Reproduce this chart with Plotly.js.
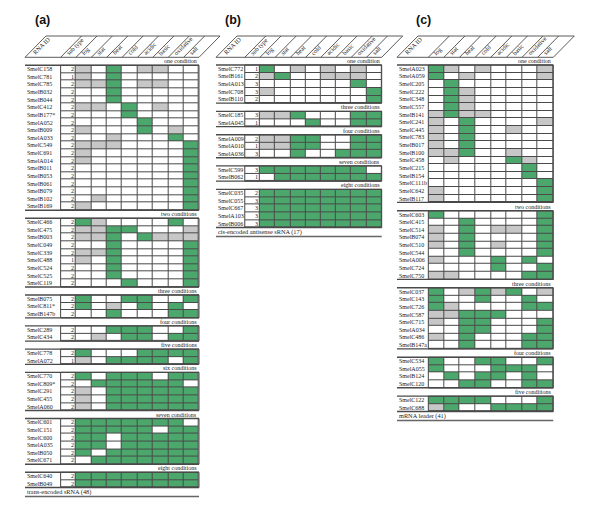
<!DOCTYPE html>
<html><head><meta charset="utf-8">
<script src="https://cdn.plot.ly/plotly-3.0.1.min.js"></script>
<style>html,body{margin:0;padding:0;background:#fff}#chart{width:600px;height:511px}</style>
</head><body><div id="chart"></div>
<script>
// ---------------- DATA ----------------
// state codes per condition: 0 = white, 1 = grey, 2 = green
const conditions = ["log","stat","heat","cold","acidic","basic","oxidative","salt"];
const groupTitles = ["one condition","two conditions","three conditions","four conditions",
                     "five conditions","six conditions","seven conditions","eight conditions"];

// Panel (a) trans-encoded sRNA
const aIds = ["SmelC158","SmelC781","SmelC785","SmelB032","SmelB044","SmelC412","SmelB177*","SmelA052","SmelB009","SmelA033",
  "SmelC549","SmelC691","SmelA014","SmelB011","SmelB053","SmelB061","SmelB079","SmelB102","SmelB169",
  "SmelC466","SmelC475","SmelB003","SmelC049","SmelC339","SmelC488","SmelC524","SmelC525","SmelC119",
  "SmelB075","SmelC811*","SmelB147b",
  "SmelC289","SmelC434",
  "SmelC778","SmelA072",
  "SmelC770","SmelC809*","SmelC291","SmelC455","SmelA060",
  "SmelC601","SmelC151","SmelC600","SmelA035","SmelB050","SmelC671",
  "SmelC640","SmelB049"];
const aSubType = [2,1,2,2,2,2,2,2,2,2, 2,2,2,2,2,2,2,2,2,
  2,2,2,2,2,1,2,2,2,
  2,2,2,
  2,2,
  2,1,
  2,2,2,2,2,
  2,2,2,2,2,2,
  2,2];
const aStates = ["10201100","10200000","11201100","00200000","00200000","11020100","00020000","00002000","10002010","00100020",
  "11100002","10000002","10000002","00000002","00000002","00000002","00000002","01000002","10000002",
  "21000020","11220001","11202111","00200002","11200002","10200002","00200002","00200002","00020002",
  "20022002","20102020","00200022",
  "00222002","01022022",
  "20002222","10222202",
  "20222022","02222220","10222222","10222222","10222222",
  "22222220","22222022","22022222","22022222","20222222","02222222",
  "22222222","22222222"];
const aGroupSizes = [19,9,3,2,2,5,6,2];
const aGroupTitleIdx = [0,1,2,3,4,5,6,7];
const aFooter = "trans-encoded sRNA (48)";

// Panel (b) cis-encoded antisense sRNA
const bIds = ["SmelC772","SmelB161","SmelA013","SmelC708","SmelB110",
  "SmelC185","SmelA045",
  "SmelA009","SmelA010","SmelA036",
  "SmelC599","SmelB062",
  "SmelC035","SmelC055","SmelC667","SmelA103","SmelB006"];
const bSubType = [1,2,3,3,2, 3,1, 2,1,3, 3,1, 2,3,3,3,3];
const bStates = ["20101010","12001110","00000020","10000002","00000002",
  "11200022","00020022",
  "11220022","11220022","00200222",
  "22222220","02222222",
  "22222222","22222222","22222222","22222222","22222222"];
const bGroupSizes = [5,2,3,2,5];
const bGroupTitleIdx = [0,2,3,6,7];
const bFooter = "cis-encoded antisense sRNA (17)";

// Panel (c) mRNA leader
const cIds = ["SmelA023","SmelA059","SmelC205","SmelC222","SmelC348","SmelC557","SmelB141","SmelC241","SmelC445","SmelC783",
  "SmelB017","SmelB100","SmelC458","SmelC215","SmelB154","SmelC111b","SmelC642","SmelB117",
  "SmelC603","SmelC415","SmelC514","SmelB074","SmelC510","SmelC544","SmelA006","SmelC724","SmelC750",
  "SmelC037","SmelC143","SmelC726","SmelC587","SmelC715","SmelA034","SmelC486","SmelB147a",
  "SmelC534","SmelA055","SmelB124","SmelC120",
  "SmelC122","SmelC688"];
const cStates = ["21010001","20100001","02000000","02100000","02100000","02100000","12110000","10200001","10200100","10200000",
  "10200000","11200100","01000210","00000020","00000020","00000002","10000002","10000002",
  "20000002","00200002","10201102","10200002","10201002","00200002","10002020","00002002","11000022",
  "20121201","20020020","21000022","11222000","10220002","00220002","10200022","00200022",
  "20022002","20002220","02022020","00220022",
  "22220002","12002222"];
const cGroupSizes = [18,9,8,4,2];
const cGroupTitleIdx = [0,1,2,3,4];
const cFooter = "mRNA leader (41)";

// ---------------- LAYOUT / STYLE ----------------
const W = 600, H = 511;
const HEAD_TOP = 36, HEAD_BOT = 57.3, SLANT = 21;
const STATE_COLORS = [[0,'#ffffff'],[0.5,'#c7c7c7'],[1,'#4ba76c']];
const LINE = '#4a4a4a';
const FONT = 'Liberation Serif, Times New Roman, serif';
const TXT = '#222';

const panels = [
  {label:'(a)', ids:aIds, sub:aSubType, states:aStates, sizes:aGroupSizes, titles:aGroupTitleIdx, footer:aFooter,
   geo:{idLeft:25, cellLeft:76, cellRight:199, top:65.3, rowH:7.63, gapH:8.0, labelX:42.5}},
  {label:'(b)', ids:bIds, sub:bSubType, states:bStates, sizes:bGroupSizes, titles:bGroupTitleIdx, footer:bFooter,
   geo:{idLeft:216, cellLeft:260, cellRight:381.7, top:65, rowH:7.63, gapH:8.2, labelX:232.5}},
  {label:'(c)', ids:cIds, sub:null, states:cStates, sizes:cGroupSizes, titles:cGroupTitleIdx, footer:cFooter,
   geo:{idLeft:397, cellLeft:428.3, cellRight:553.3, top:65, rowH:7.63, gapH:8.4, labelX:423}}
];

const px2x = v => v / W, px2y = v => 1 - v / H;
const traces = [], annotations = [], shapes = [];
const layout = {width:W, height:H, margin:{l:0,r:0,t:0,b:0,pad:0}, paper_bgcolor:'#fff',
  plot_bgcolor:'rgba(0,0,0,0)', showlegend:false, hovermode:false, annotations, shapes};

panels.forEach((p, k) => {
  const g = p.geo;
  const suffix = k === 0 ? '' : String(k + 1);
  const xName = 'x' + suffix, yName = 'y' + suffix;
  const nC = conditions.length;
  const cellW = (g.cellRight - g.cellLeft) / nC;
  const hasSub = !!p.sub;
  const uLeft = -0.5 - (g.cellLeft - g.idLeft) / cellW;
  const uRight = nC - 0.5;
  const padU = 1.5 / cellW;
  const G = g.gapH / g.rowH;

  const rowY = [];
  let s = 0;
  p.sizes.forEach(n => { for (let j = 0; j < n; j++) rowY.push(s + j); s += n + G; });
  const bottomEdge = rowY[rowY.length - 1] + 0.5;
  const yTopU = -0.5 - (g.top - HEAD_BOT) / g.rowH;
  const yBotU = bottomEdge + 12 / g.rowH;
  const uy2px = u => g.top + (u + 0.5) * g.rowH;

  layout['xaxis' + suffix] = {domain:[px2x(g.idLeft - 1.5), px2x(g.cellRight + 1.5)], range:[uLeft - padU, uRight + padU],
    visible:false, fixedrange:true, anchor:yName};
  layout['yaxis' + suffix] = {domain:[px2y(uy2px(yBotU)), px2y(HEAD_BOT)], range:[yBotU, yTopU],
    visible:false, fixedrange:true, anchor:xName};

  const xs = (hasSub ? [-1] : []).concat(conditions.map((_, i) => i));
  let r0 = 0;
  p.sizes.forEach((n, gi) => {
    const ys = rowY.slice(r0, r0 + n);
    const z = [], zu = [];
    for (let j = 0; j < n; j++) {
      const codes = p.states[r0 + j].split('').map(Number);
      const row = hasSub ? [0].concat(codes) : codes;
      z.push(row); zu.push(row.map(() => 1));
    }
    traces.push({type:'heatmap', x:xs, y:ys, z:zu, xaxis:xName, yaxis:yName, zmin:0, zmax:1,
      colorscale:[[0,LINE],[1,LINE]], showscale:false, hoverinfo:'skip'});
    traces.push({type:'heatmap', x:xs, y:ys, z:z, xaxis:xName, yaxis:yName, zmin:0, zmax:2,
      colorscale:STATE_COLORS, xgap:1, ygap:1, showscale:false, hoverinfo:'skip'});

    const yT = ys[0] - 0.5, yB = ys[n - 1] + 0.5;
    [yT, yB].forEach(yy => shapes.push({type:'line', xref:xName, yref:yName, x0:uLeft, x1:uRight, y0:yy, y1:yy,
      line:{color:LINE, width:1.4}}));
    shapes.push({type:'rect', xref:xName, yref:yName, x0:hasSub ? -1.5 : -0.5, x1:uRight, y0:yT, y1:yB,
      line:{color:LINE, width:1}});

    annotations.push({xref:xName, yref:yName, x:uRight, y:yT - G / 2, xshift:-1, text:groupTitles[p.titles[gi]],
      xanchor:'right', yanchor:'middle', showarrow:false, borderpad:0, font:{family:FONT, size:6, color:TXT}});

    for (let j = 0; j < n; j++) {
      annotations.push({xref:xName, yref:yName, x:uLeft + 0.01, y:ys[j], xshift:0.5, text:p.ids[r0 + j],
        xanchor:'left', yanchor:'middle', showarrow:false, borderpad:0, font:{family:FONT, size:6, color:TXT}});
      if (hasSub) annotations.push({xref:xName, yref:yName, x:-0.5, y:ys[j], xshift:-1.5, text:String(p.sub[r0 + j]),
        xanchor:'right', yanchor:'middle', showarrow:false, borderpad:0, font:{family:FONT, size:6, color:TXT}});
    }
    r0 += n;
  });

  // footer
  annotations.push({xref:xName, yref:yName, x:uLeft + 0.01, y:bottomEdge + 4.8 / g.rowH, xshift:0.5, text:p.footer,
    xanchor:'left', yanchor:'middle', showarrow:false, borderpad:0, font:{family:FONT, size:6.3, color:TXT}});
  shapes.push({type:'line', xref:xName, yref:yName, x0:uLeft, x1:uRight, y0:bottomEdge + 9 / g.rowH, y1:bottomEdge + 9 / g.rowH,
    line:{color:'#666', width:1.4}});

  // slanted header
  const edges = [g.idLeft].concat(hasSub ? [g.cellLeft - cellW] : [], conditions.map((_, i) => g.cellLeft + i * cellW), [g.cellRight]);
  const heads = ['RNA ID'].concat(hasSub ? ['sub type'] : [], conditions);
  edges.forEach(e => shapes.push({type:'line', xref:'paper', yref:'paper', x0:px2x(e), y0:px2y(HEAD_BOT),
    x1:px2x(e + SLANT), y1:px2y(HEAD_TOP), line:{color:LINE, width:0.9}}));
  shapes.push({type:'line', xref:'paper', yref:'paper', x0:px2x(edges[0]), x1:px2x(edges[edges.length - 1]),
    y0:px2y(HEAD_BOT), y1:px2y(HEAD_BOT), line:{color:LINE, width:0.9}});
  shapes.push({type:'line', xref:'paper', yref:'paper', x0:px2x(edges[0] + SLANT), x1:px2x(edges[edges.length - 1] + SLANT),
    y0:px2y(HEAD_TOP), y1:px2y(HEAD_TOP), line:{color:LINE, width:0.9}});
  heads.forEach((t, i) => annotations.push({xref:'paper', yref:'paper', x:px2x(edges[i] + (i === 0 ? 5 : 2.5)),
    y:px2y(HEAD_BOT + 0.3), text:t, textangle:-45, xanchor:'left', yanchor:'bottom', showarrow:false, borderpad:0,
    font:{family:FONT, size:6.3, color:TXT}}));

  annotations.push({xref:'paper', yref:'paper', x:px2x(g.labelX), y:px2y(20), text:p.label, xanchor:'center',
    yanchor:'middle', showarrow:false, font:{family:'Liberation Sans, Arial, sans-serif', size:12.5, color:'#111', weight:'bold'}});
});

Plotly.newPlot('chart', traces, layout, {staticPlot:true, displayModeBar:false});
</script>
</body></html>
